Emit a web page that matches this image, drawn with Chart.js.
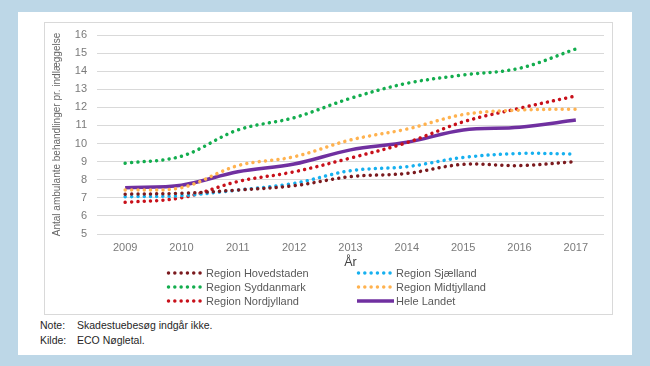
<!DOCTYPE html>
<html>
<head>
<meta charset="utf-8">
<script src="https://cdn.jsdelivr.net/npm/chart.js@4/dist/chart.umd.min.js"></script>
<style>
  html, body { margin:0; padding:0; }
  body { width:650px; height:366px; background:#bdd7e7; position:relative; overflow:hidden; font-family:"Liberation Sans", Arial, sans-serif; }
  #panel { position:absolute; left:18px; top:12px; width:614px; height:343px; background:#fff; }
  #box { position:absolute; left:44px; top:22px; width:567px; height:291px; border:1px solid #d9d9d9; }
  #cv { position:absolute; left:0; top:0; }
  .note { position:absolute; left:40px; font-size:10.5px; color:#262626; }
  .note span { position:absolute; left:37px; white-space:nowrap; }
</style>
</head>
<body>
<div id="panel"></div>
<div id="box"></div>
<div class="note" style="top:319px;">Note:<span>Skadestuebesøg indgår ikke.</span></div>
<div class="note" style="top:334px;">Kilde:<span>ECO Nøgletal.</span></div>
<canvas id="cv" width="650" height="366"></canvas>
<script>
const years = ['2009','2010','2011','2012','2013','2014','2015','2016','2017'];
const hovedstaden = [7.2, 7.25, 7.43, 7.67, 8.17, 8.35, 8.85, 8.78, 9.0];
const sjaelland   = [7.06, 7.12, 7.43, 7.8, 8.5, 8.72, 9.23, 9.45, 9.42];
const syddanmark  = [8.91, 9.3, 10.75, 11.43, 12.5, 13.33, 13.79, 14.16, 15.23];
const midtjylland = [7.43, 7.56, 8.78, 9.27, 10.2, 10.8, 11.6, 11.85, 11.9];
const nordjylland = [6.75, 7.0, 7.9, 8.44, 9.2, 10.05, 11.2, 11.95, 12.63];
const heleLandet  = [7.56, 7.7, 8.44, 8.87, 9.65, 10.07, 10.75, 10.9, 11.3];
const yTicks = [5,6,7,8,9,10,11,12,13,14,15,16];

const seriesNames = ['Region Hovedstaden','Region Sjælland','Region Syddanmark','Region Midtjylland','Region Nordjylland','Hele Landet'];
const seriesColors = ['#7b1a1e','#16b0ef','#13ad4e','#ffb24f','#c8101a','#7030a0'];
const seriesData = [hovedstaden, sjaelland, syddanmark, midtjylland, nordjylland, heleLandet];

const datasets = seriesData.map((d, i) => {
  const solid = i === 5;
  return {
    label: seriesNames[i],
    data: d,
    borderColor: seriesColors[i],
    backgroundColor: seriesColors[i],
    borderWidth: 3.5,
    borderDash: solid ? [] : [0.01, 6.3],
    borderCapStyle: solid ? 'butt' : 'round',
    pointRadius: 0,
    tension: 0.35,
    fill: false
  };
});

const legendPlugin = {
  id: 'customLegend',
  afterDraw(chart) {
    const ctx = chart.ctx;
    const cols = [167, 357];
    const rows = [273, 287, 301];
    ctx.save();
    ctx.font = '11px "Liberation Sans", Arial, sans-serif';
    ctx.textBaseline = 'middle';
    chart.data.datasets.forEach((ds, i) => {
      const x = cols[i % 2];
      const y = rows[Math.floor(i / 2)];
      ctx.strokeStyle = ds.borderColor;
      ctx.lineWidth = ds.borderWidth;
      ctx.lineCap = ds.borderCapStyle;
      ctx.setLineDash(ds.borderDash);
      ctx.beginPath();
      if (ds.borderDash.length) {
        ctx.moveTo(x + 1.5, y);
        ctx.lineTo(x + 34, y);
      } else {
        ctx.moveTo(x, y);
        ctx.lineTo(x + 37, y);
      }
      ctx.stroke();
      ctx.setLineDash([]);
      ctx.fillStyle = '#595959';
      ctx.fillText(ds.label, x + 39, y + 0.5);
    });
    ctx.restore();
  }
};

new Chart(document.getElementById('cv'), {
  type: 'line',
  data: { labels: years, datasets: datasets },
  plugins: [legendPlugin],
  options: {
    responsive: false,
    animation: false,
    layout: { padding: { left: 50, right: 46, top: 35, bottom: 96 } },
    plugins: { legend: { display: false }, tooltip: { enabled: false } },
    font: { family: '"Liberation Sans", Arial, sans-serif' },
    scales: {
      x: {
        offset: true,
        grid: { display: false, drawTicks: false },
        border: { display: false },
        ticks: { color: '#7a7a7a', font: { size: 11, family: '"Liberation Sans", Arial, sans-serif' }, padding: 7, maxRotation: 0 },
        title: { display: true, text: 'År', color: '#404040', font: { size: 12.5, family: '"Liberation Sans", Arial, sans-serif' }, padding: { top: 0, bottom: 0 } },
        afterFit(scale) { scale.height = 36; }
      },
      y: {
        min: 5, max: 16,
        afterBuildTicks(scale) { scale.ticks = yTicks.map(v => ({ value: v })); },
        grid: { color: '#d9d9d9', lineWidth: 1, drawTicks: false },
        border: { display: false },
        ticks: { color: '#7a7a7a', font: { size: 11, family: '"Liberation Sans", Arial, sans-serif' }, padding: 10 },
        title: { display: true, text: 'Antal ambulante behandlinger pr. indlæggelse', color: '#666666', font: { size: 10, family: '"Liberation Sans", Arial, sans-serif' }, padding: { top: 1, bottom: 0 } },
        afterFit(scale) { scale.width = 47; }
      }
    }
  }
});
</script>
</body>
</html>
